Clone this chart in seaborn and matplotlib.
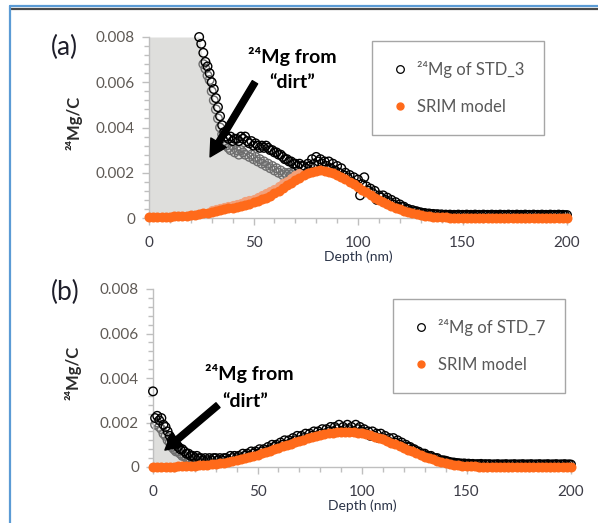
import numpy as np
import pandas as pd
import matplotlib
matplotlib.use("Agg")
import matplotlib.pyplot as plt
import seaborn as sns
from matplotlib.lines import Line2D
from matplotlib.ticker import MultipleLocator, FuncFormatter

# ---------------- data ----------------
# Panel (a): 24Mg of STD_3, depths 24..200 nm, 1 nm step
std3_depth = list(range(24, 201))
std3_ratio = [
    .0080, .0077, .0073, .0069, .0067, .0064, .0060, .0057, .0053, .0049,
    .0045, .0041, .0038, .0036, .0035, .0036, .0034, .0035, .0035, .0034,
    .0036, .0035, .0036, .0034, .0033, .0034, .0032, .0033, .0032, .0031,
    .0032, .0031, .0032, .0031, .0030, .0030, .0029, .0029, .0028, .0028,
    .0027, .0026, .0026, .0025, .0025, .0024, .0024, .0023, .0024, .0023,
    .0023, .0022, .0024, .0023, .0026, .0024, .0027, .0025, .0026, .0024,
    .0025, .0023, .0025, .0022, .0024, .0021, .0023, .0020, .0022, .0019,
    .0020, .0018, .0019, .0016, .0018, .0015, .0017, .0010, .0015, .0018,
    .0014, .0012, .0013, .0011, .0012, .0008, .0010, .0009, .0010, .0008,
    .0009, .0007, .0008, .0006, .0007, .0005, .0006, .0005, .0005, .0004,
    .0004, .0003, .00035, .0003, .0003, .00025, .00025, .0002, .00022, .00018,
    .0002, .00016, .00018, .00015, .00017, .00014, .00016, .00012, .00015, .00013,
    .00015, .00012, .00014, .00013, .00015, .00012, .00014, .00012, .00015, .00013,
    .00014, .00012, .00015, .00013, .00014, .00011, .00015, .00013, .00014, .00012,
    .00015, .00013, .00014, .00012, .00015, .00013, .00014, .00011, .00015, .00013,
    .00014, .00012, .00015, .00013, .00014, .00012, .00015, .00013, .00014, .00011,
    .00015, .00013, .00014, .00012, .00015, .00013, .00014, .00012, .00015, .00013,
    .00014, .00012, .00015, .00013, .00014, .00012, .00013,
]
# lighter (grey) overlapping measurement points in panel (a)
std3_grey_depth = list(range(26, 71))
std3_grey_ratio = [
    .0068, .0066, .0063, .0061, .0056, .0052, .0048, .0044, .0040, .0037,
    .0034, .0032, .0031, .0030, .0032, .0029, .0030, .0028, .0030, .0029,
    .0028, .0030, .0027, .0028, .0026, .0027, .0025, .0026, .0024, .0025,
    .0023, .0024, .0022, .0023, .0021, .0022, .0020, .0021, .0019, .0020,
    .0019, .0020, .0019, .0020, .0019,
]
# SRIM model for panel (a), 2 nm step
srim_a_depth = list(range(0, 201, 2))
srim_a_ratio = [
    .00003, .00003, .00004, .00004, .00005, .00006, .00007, .00008, .00009, .00011,
    .00013, .00015, .00018, .00021, .00024, .00027, .0003, .00034, .00038, .00042,
    .00045, .00049, .00053, .00058, .00063, .00069, .00075, .00082, .0009, .00099,
    .00109, .0012, .00132, .00144, .00156, .00168, .00179, .00189, .00198, .00205,
    .00209, .0021, .00208, .00204, .00198, .0019, .00181, .00171, .0016, .00149,
    .00137, .00125, .00113, .00101, .0009, .0008, .0007, .00061, .00053, .00046,
    .0004, .00033, .00027, .00022, .00018, .00014, .0001, .00007, .00005, .00004,
    .00003, .00003, .00002, .00002, .00002, .00002, .00002, .00002, .00002, .00002,
    .00002, .00002, .00002, .00002, .00002, .00002, .00002, .00002, .00002, .00002,
    .00002, .00002, .00002, .00002, .00002, .00002, .00002, .00002, .00002, .00002,
    .00002,
]
srim_a_light_depth = list(range(30, 73, 2))
srim_a_light_ratio = [
    .00036, .0004, .00044, .00048, .00053, .00057, .00062, .00067, .00073, .00079,
    .00086, .00093, .00101, .0011, .0012, .0013, .00141, .00153, .00165, .00177,
    .00188, .00197,
]
# "dirt" region (a)
dirt_a_depth = [0, 24, 26, 28, 30, 32, 34, 36, 40, 45, 50, 55, 60, 65, 70, 74]
dirt_a_top = [.008, .008, .0068, .0063, .0056, .0048, .0040, .0034, .0031, .0029,
              .0026, .0025, .0021, .0020, .0019, .0019]

# Panel (b): 24Mg of STD_7, depths 0..200 nm
std7_depth = list(range(0, 201))
std7_ratio = [
    .0034, .0022, .0023, .0021, .0022, .0019, .0018, .0016, .0014, .0012,
    .0011, .0010, .0009, .0008, .0008, .0007, .0006, .0006, .0005, .0005,
    .0004, .0005, .0004, .0004, .0003, .0004, .0003, .0004, .0003, .0004,
    .0004, .0003, .0004, .0003, .0004, .0004, .0003, .0005, .0004, .0005,
    .0004, .0005, .0004, .0006, .0005, .0006, .0005, .0007, .0006, .0007,
    .0006, .0008, .0007, .0008, .0007, .0009, .0008, .0010, .0009, .0010,
    .0009, .0011, .0010, .0012, .0010, .0012, .0011, .0013, .0012, .0014,
    .0012, .0014, .0013, .0015, .0013, .0015, .0014, .0016, .0014, .0016,
    .0015, .0017, .0015, .0017, .0016, .0018, .0016, .0018, .0017, .0019,
    .0016, .0018, .0017, .0019, .0017, .0018, .0016, .0019, .0017, .0018,
    .0016, .0017, .0015, .0016, .0014, .0016, .0014, .0015, .0013, .0015,
    .0013, .0014, .0012, .0013, .0011, .0013, .0011, .0012, .0010, .0011,
    .0009, .0010, .0009, .0009, .0008, .0008, .0007, .0007, .0006, .0006,
    .0006, .0005, .0005, .0005, .0004, .0004, .0004, .0003, .0003, .0003,
    .00028, .00025, .00022, .0002, .0002, .00018, .00017, .00016, .00015, .00016,
    .00014, .00015, .00012, .00014, .00011, .00013, .00012, .00014, .0001, .00013,
    .00011, .00013, .0001, .00012, .00011, .00013, .0001, .00012, .00011, .00013,
    .0001, .00012, .00011, .00013, .0001, .00012, .00011, .00013, .0001, .00012,
    .00011, .00013, .0001, .00012, .00011, .00013, .0001, .00012, .00011, .00013,
    .0001, .00012, .00011, .00013, .0001, .00012, .00011, .00013, .0001, .00012,
    .00011,
]
std7_grey_depth = list(range(1, 29))
std7_grey_ratio = [
    .0019, .0020, .0018, .0017, .0015, .0014, .0012, .0011, .0009, .0008,
    .0007, .0007, .0006, .0005, .0005, .0004, .0004, .0003, .0003, .0003,
    .0003, .0002, .0003, .0002, .0002, .0002, .0002, .0002,
]
srim_b_depth = list(range(0, 201, 2))
srim_b_ratio = [
    .00001, .00001, .00001, .00002, .00002, .00002, .00003, .00003, .00004, .00005,
    .00006, .00007, .00008, .0001, .00012, .00014, .00017, .0002, .00023, .00027,
    .00031, .00035, .0004, .00045, .0005, .00056, .00062, .00068, .00074, .0008,
    .00087, .00093, .00099, .00105, .00111, .00117, .00123, .00129, .00134, .00139,
    .00144, .00148, .00151, .00154, .00156, .00157, .00158, .00158, .00157, .00155,
    .00152, .00148, .00143, .00137, .00131, .00124, .00117, .0011, .00102, .00094,
    .00086, .00078, .0007, .00062, .00054, .00047, .0004, .00034, .00028, .00023,
    .00018, .00014, .0001, .00008, .00006, .00004, .00003, .00003, .00002, .00002,
    .00002, .00002, .00002, .00002, .00002, .00002, .00002, .00002, .00002, .00002,
    .00002, .00002, .00002, .00002, .00002, .00002, .00002, .00002, .00002, .00002,
    .00002,
]
dirt_b_depth = [0, 2, 4, 6, 8, 10, 12, 14, 16, 18, 20, 22, 24, 26, 28]
dirt_b_top = [.0018, .0018, .0017, .0015, .0012, .0010, .0008, .0006, .0005, .0004,
              .0003, .00022, .00015, .0001, .00008]

x_ticks = [0, 50, 100, 150, 200]
y_ticks = [0, 0.002, 0.004, 0.006, 0.008]
legend_a = ["\u00b2\u2074Mg of STD_3", "SRIM model"]
legend_b = ["\u00b2\u2074Mg of STD_7", "SRIM model"]
ylabel_text = "\u00b2\u2074Mg/C"
xlabel_text = "Depth (nm)"
dirt_line1 = "\u00b2\u2074Mg from"
dirt_line2 = "\u201cdirt\u201d"

# ---------------- styling ----------------
sns.set_theme(style="white")
plt.rcParams['font.family'] = ['Lato', 'DejaVu Sans']

ORANGE = "#ff6a1a"
LIGHT_ORANGE = "#f2a07a"
FILL = "#dededc"
AXIS = "#bfbfbf"
TICKLAB = "#5f5a55"

fig = plt.figure(figsize=(5.98, 5.23), dpi=100)
W, H = 598, 523

def px_axes(l, r, b, t):
    return fig.add_axes([l / W, 1 - b / H, (r - l) / W, (b - t) / H])

ax1 = px_axes(149, 567, 218, 37)
ax2 = px_axes(153, 571, 467, 289)


def draw_panel(ax, d_x, d_y, g_x, g_y, s_x, s_y, f_x, f_top, light=None):
    s_x = np.asarray(s_x, float); s_y = np.asarray(s_y, float)
    sub = s_x <= max(f_x)
    fx = s_x[sub]
    ax.fill_between(fx, s_y[sub], np.interp(fx, f_x, f_top), color=FILL, lw=0, zorder=1)
    sns.scatterplot(x=g_x, y=g_y, ax=ax, marker='o', facecolor='none',
                    edgecolor='#6e6e6e', s=38, linewidth=1.0, clip_on=False, zorder=2)
    sns.scatterplot(x=d_x, y=d_y, ax=ax, marker='o', facecolor='none',
                    edgecolor='black', s=38, linewidth=1.0, clip_on=False, zorder=3)
    if light is not None:
        sns.scatterplot(x=light[0], y=light[1], ax=ax, marker='o', color=LIGHT_ORANGE,
                        edgecolor=LIGHT_ORANGE, s=44, linewidth=0, clip_on=False, zorder=4)
    sns.scatterplot(x=s_x, y=s_y, ax=ax, marker='o', color=ORANGE, edgecolor=ORANGE,
                    s=52, linewidth=0, clip_on=False, zorder=5)

    ax.set_xlim(0, 200)
    ax.set_ylim(0, 0.008)
    ax.set_xticks(x_ticks)
    ax.set_yticks(y_ticks)
    ax.xaxis.set_minor_locator(MultipleLocator(10))
    ax.yaxis.set_minor_locator(MultipleLocator(0.0004))
    ax.yaxis.set_major_formatter(FuncFormatter(lambda v, p: '0' if abs(v) < 1e-12 else f'{v:.3f}'))
    for side in ['top', 'right']:
        ax.spines[side].set_visible(False)
    for side in ['left', 'bottom']:
        ax.spines[side].set_color(AXIS)
        ax.spines[side].set_linewidth(1.0)
    ax.tick_params(axis='both', which='major', direction='out', length=5, width=1,
                   color=AXIS, left=True, bottom=True)
    ax.tick_params(axis='both', which='minor', direction='out', length=3.5, width=1,
                   color=AXIS, left=True, bottom=True)
    ax.tick_params(axis='y', which='major', labelsize=11, labelcolor=TICKLAB, pad=5)
    ax.tick_params(axis='x', which='major', labelsize=11, labelcolor='#3c3c46', pad=8)
    ax.set_facecolor('none')
    ax.set_xlabel(xlabel_text, fontsize=10, color='#2b3448', labelpad=0)
    ax.set_ylabel(ylabel_text, fontsize=12, fontweight='bold', color='#2b2b2b')


draw_panel(ax1, std3_depth, std3_ratio, std3_grey_depth, std3_grey_ratio,
           srim_a_depth, srim_a_ratio, dirt_a_depth, dirt_a_top,
           light=(srim_a_light_depth, srim_a_light_ratio))
draw_panel(ax2, std7_depth, std7_ratio, std7_grey_depth, std7_grey_ratio,
           srim_b_depth, srim_b_ratio, dirt_b_depth, dirt_b_top)

ax1.yaxis.set_label_coords(-0.16, 0.525)
ax2.yaxis.set_label_coords(-0.17, 0.528)


def add_legend(ax, labels, x_px, y_px):
    handles = [
        Line2D([], [], marker='o', ls='', mfc='none', mec='black', ms=5.5, mew=0.9),
        Line2D([], [], marker='o', ls='', mfc=ORANGE, mec=ORANGE, ms=5),
    ]
    leg = ax.legend(handles, labels, loc='upper left',
                    bbox_to_anchor=(x_px / W, 1 - y_px / H), bbox_transform=fig.transFigure,
                    fontsize=12, frameon=True, fancybox=False, framealpha=1,
                    edgecolor='#a6a6a6', borderpad=1.2, labelspacing=1.25,
                    handlelength=1.0, handletextpad=0.5, borderaxespad=0)
    leg.get_frame().set_linewidth(1.0)
    for t in leg.get_texts():
        t.set_color('#595959')
    return leg

add_legend(ax1, legend_a, 372, 41)
add_legend(ax2, legend_b, 393, 299)

# annotations
arrow_kw = dict(facecolor='black', edgecolor='black', width=4.5, headwidth=13,
                headlength=12, shrink=0)
ax1.annotate('', xy=(29.2, 0.0027), xytext=(50.7, 0.0060), arrowprops=arrow_kw, zorder=6)
ax1.text(68.4, 0.00712, dirt_line1, ha='center', va='center', fontsize=14,
         fontweight='bold', color='black')
ax1.text(68.4, 0.00601, dirt_line2, ha='center', va='center', fontsize=14,
         fontweight='bold', color='black')

ax2.annotate('', xy=(5.7, 0.00076), xytext=(31.1, 0.00278), arrowprops=arrow_kw, zorder=6)
ax2.text(45.9, 0.00422, dirt_line1, ha='center', va='center', fontsize=14,
         fontweight='bold', color='black')
ax2.text(44.0, 0.00296, dirt_line2, ha='center', va='center', fontsize=14,
         fontweight='bold', color='black')

# panel labels
fig.text(51 / W, 1 - 47 / H, '(a)', fontsize=19, va='center', ha='left', color='#1e1e2a')
fig.text(51 / W, 1 - 292 / H, '(b)', fontsize=19, va='center', ha='left', color='#1e1e2a')

# frame lines of the original slide
fig.add_artist(Line2D([10 / W, 1], [1 - 6 / H] * 2, color='#5b9bd5', lw=1.6,
                      transform=fig.transFigure))
fig.add_artist(Line2D([10 / W, 1], [1 - 8.5 / H] * 2, color='#4a4a4a', lw=1.6,
                      transform=fig.transFigure))
fig.add_artist(Line2D([10 / W] * 2, [1 - 6 / H, 0], color='#5b9bd5', lw=1.6,
                      transform=fig.transFigure))

fig.savefig('out.png', dpi=100, facecolor='white')
